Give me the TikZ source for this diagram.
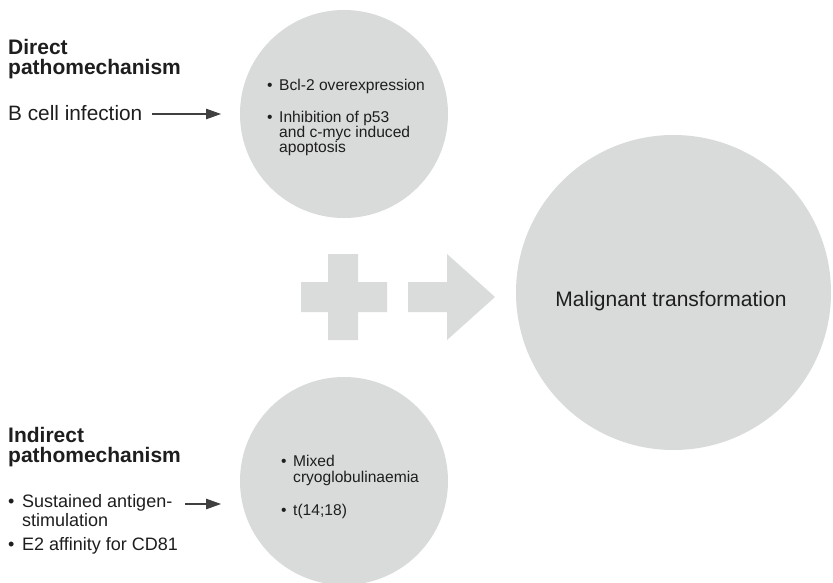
\documentclass[tikz,border=0pt]{standalone}
\usepackage{fontspec}
\setmainfont{Liberation Sans}
\usetikzlibrary{arrows.meta}
\definecolor{circ}{RGB}{217,218,218}
\definecolor{symfill}{RGB}{218,219,219}
\definecolor{ink}{RGB}{30,30,30}
\tikzset{
  bubble/.style={circle, fill=circ, draw=none, inner sep=0pt},
  txt/.style={anchor=base west, inner sep=0pt, text=ink},
  head/.style={txt, font=\fontsize{21}{24}\selectfont\bfseries},
  lbl/.style={txt, font=\fontsize{20.8}{24}\selectfont},
  lbul/.style={txt, font=\fontsize{18}{21}\selectfont},
  cbul/.style={txt, font=\fontsize{15.6}{18}\selectfont},
  big/.style={anchor=base, inner sep=0pt, text=ink, font=\fontsize{21}{24}\selectfont},
  conn/.style={draw=ink!85, line width=1.1pt, -{Triangle[length=15pt,width=10.5pt]}},
  symbol/.style={fill=symfill, draw=none},
}
\begin{document}
\begin{tikzpicture}[x=1pt,y=-1pt]
\clip (0,0) rectangle (833,583);
\fill[white] (0,0) rectangle (833,583);

% circles
\node[bubble, minimum size=208pt] (topc) at (344,114) {};
\node[bubble, minimum size=208pt] (botc) at (344,481) {};
\node[bubble, minimum size=315pt] (bigc) at (673.5,292.5) {};

% plus sign
\path[symbol] (328,254) -- (358,254) -- (358,282) -- (387,282) -- (387,312) -- (358,312)
  -- (358,340) -- (328,340) -- (328,312) -- (301,312) -- (301,282) -- (328,282) -- cycle;
% big arrow
\path[symbol] (408,282) -- (447,282) -- (447,254) -- (495,297) -- (447,340) -- (447,312) -- (408,312) -- cycle;

% big circle label
\node[big] (malig) at (671,306) {Malignant transformation};

% top left
\node[head] (dir1) at (8,55) {Direct};
\node[head] (dir2) at (8,75) {pathomechanism};
\node[lbl] (bcell) at (8,121) {B cell infection};
\coordinate (a1s) at (152,114);
\coordinate (a1e) at (221,114);
\draw[conn] (a1s) -- (a1e);

% top circle text
\node[cbul] (tb1) at (267,91) {•};
\node[cbul] (tt1) at (279,91) {Bcl-2 overexpression};
\node[cbul] (tb2) at (267,123) {•};
\node[cbul] (tt2) at (279,123) {Inhibition of p53};
\node[cbul] (tt3) at (279,138) {and c-myc induced};
\node[cbul] (tt4) at (279,153) {apoptosis};

% bottom left
\node[head] (ind1) at (8,442) {Indirect};
\node[head] (ind2) at (8,462) {pathomechanism};
\node[lbul] (lb1) at (8,507) {•};
\node[lbul] (lt1) at (22,507) {Sustained antigen-};
\node[lbul] (lt2) at (22,526) {stimulation};
\node[lbul] (lb2) at (8,550) {•};
\node[lbul] (lt3) at (22,550) {E2 affinity for CD81};
\coordinate (a2s) at (185,504);
\coordinate (a2e) at (221,504);
\draw[conn] (a2s) -- (a2e);

% bottom circle text
\node[cbul] (bb1) at (281,466) {•};
\node[cbul] (bt1) at (293,466) {Mixed};
\node[cbul] (bt2) at (293,482) {cryoglobulinaemia};
\node[cbul] (bb2) at (281,515) {•};
\node[cbul] (bt3) at (293,515) {t(14;18)};
\end{tikzpicture}
\end{document}
